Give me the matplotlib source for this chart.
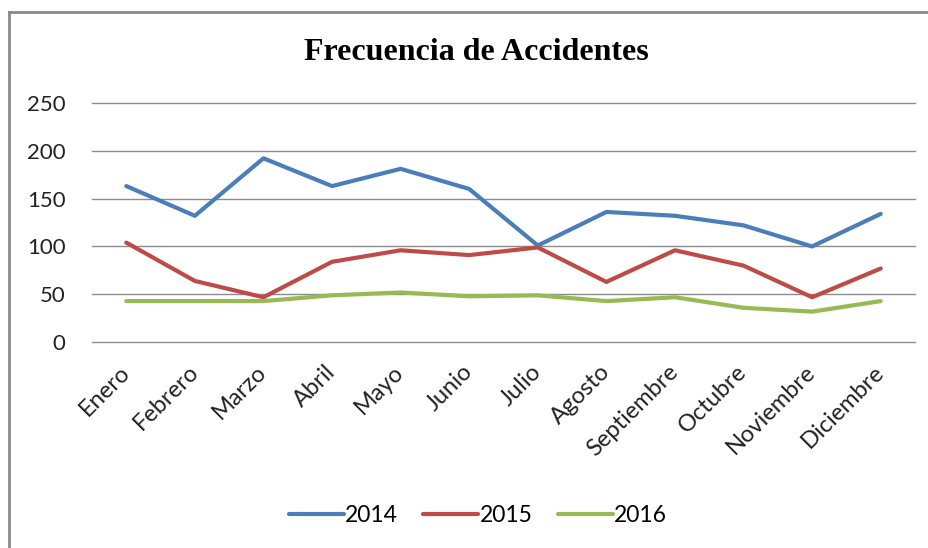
import matplotlib

matplotlib.use("Agg")
import matplotlib.pyplot as plt
from matplotlib.lines import Line2D

months = ["Enero", "Febrero", "Marzo", "Abril", "Mayo", "Junio", "Julio",
          "Agosto", "Septiembre", "Octubre", "Noviembre", "Diciembre"]
y2014 = [163, 132, 192, 163, 181, 160, 101, 136, 132, 122, 100, 134]
y2015 = [104, 64, 47, 84, 96, 91, 99, 63, 96, 80, 47, 77]
y2016 = [43, 43, 43, 49, 52, 48, 49, 43, 47, 36, 32, 43]
series = [("2014", y2014, "#4A7EBB"), ("2015", y2015, "#BE4B48"), ("2016", y2016, "#98B954")]
yticks = [0, 50, 100, 150, 200, 250]

W, H = 929, 548
fig = plt.figure(figsize=(W / 100, H / 100), dpi=100)
ax = fig.add_axes([92 / W, 1 - 342.3 / H, (915 - 92) / W, (342.3 - 102.7) / H])

x = list(range(len(months)))
for name, values, color in series:
    ax.plot(x, values, color=color, lw=3.0, label=name, solid_capstyle="round",
            solid_joinstyle="round", zorder=3)

ax.set_xlim(-0.5, len(months) - 0.5)
ax.set_ylim(0, 250)
ax.set_yticks(yticks)
ax.set_yticklabels([str(v) for v in yticks], family="Lato", fontsize=16, color="#222222")
ax.set_xticks(x)
ax.set_xticklabels(months, family="Lato", fontsize=17, color="#222222",
                   rotation=45, ha="right", rotation_mode="anchor", va="center")
ax.tick_params(axis="both", length=0)
ax.tick_params(axis="y", pad=19)
ax.tick_params(axis="x", pad=19)
ax.grid(axis="y", color="#8c8c8c", lw=1.0)
for gl in ax.get_ygridlines():
    gl.set_clip_on(False)
ax.set_axisbelow(True)
for side in ax.spines.values():
    side.set_visible(False)

fig.text(476 / W, 1 - 53 / H, "Frecuencia de Accidentes", family="Liberation Serif",
         fontweight="bold", fontsize=23, ha="center", va="center")

fig.legend(loc="center", bbox_to_anchor=(478 / W, 1 - 516 / H), ncol=3, frameon=False,
           prop={"family": "Lato", "size": 16.5}, handlelength=2.4, handletextpad=0.05,
           columnspacing=1.1)

# outer chart frame (cropped on right/bottom)
fig.add_artist(Line2D([8.5 / W, 1], [1 - 12 / H, 1 - 12 / H], transform=fig.transFigure,
                      color="#8a8a8a", lw=2))
fig.add_artist(Line2D([8.5 / W, 8.5 / W], [0, 1 - 12 / H], transform=fig.transFigure,
                      color="#8a8a8a", lw=2))

fig.savefig("out.png", dpi=100)
